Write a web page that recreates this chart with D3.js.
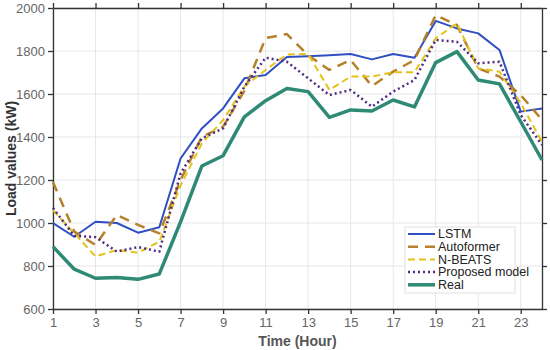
<!DOCTYPE html>
<html>
<head>
<meta charset="utf-8">
<script src="https://cdn.jsdelivr.net/npm/d3@7"></script>
<style>
  body { margin: 0; background: #fff; }
  svg { font-family: Arial, "Liberation Sans", sans-serif; }
</style>
</head>
<body>
<div id="chart"></div>
<script>
// hours on the x axis
var hours = d3.range(1, 25);
var xTicks = [1, 3, 5, 7, 9, 11, 13, 15, 17, 19, 21, 23];
var yTicks = [600, 800, 1000, 1200, 1400, 1600, 1800, 2000];

// series
var lstm = [999, 936, 1006, 1000, 955, 980, 1300, 1440, 1533, 1673, 1688, 1772,
            1776, 1780, 1786, 1761, 1786, 1769, 1940, 1905, 1882, 1805, 1518, 1533];
var autoformer = [1190, 960, 898, 1037, 991, 952, 1200, 1401, 1448, 1615, 1860, 1879,
                  1780, 1712, 1758, 1637, 1704, 1758, 1967, 1921, 1719, 1681, 1595, 1480];
var nbeats = [1060, 952, 845, 874, 862, 913, 1175, 1370, 1479, 1634, 1712, 1784,
              1786, 1619, 1681, 1681, 1701, 1701, 1859, 1929, 1719, 1704, 1557, 1378];
var proposed = [1070, 940, 934, 867, 888, 867, 1230, 1394, 1440, 1634, 1769, 1750,
                1673, 1595, 1619, 1541, 1611, 1665, 1851, 1843, 1743, 1750, 1502, 1363];
var real = [890, 785, 743, 747, 738, 763, 1005, 1265, 1313, 1494, 1569, 1626,
            1611, 1491, 1526, 1521, 1572, 1540, 1746, 1797, 1665, 1647, 1471, 1293];

var seriesList = [
  {name: "LSTM", values: lstm, color: "#2f4fc2", width: 2, dash: null},
  {name: "Autoformer", values: autoformer, color: "#b5812b", width: 2.5, dash: "10,7"},
  {name: "N-BEATS", values: nbeats, color: "#e3c21c", width: 2, dash: "7,4"},
  {name: "Proposed model", values: proposed, color: "#4e2a82", width: 2.5, dash: "2,3"},
  {name: "Real", values: real, color: "#2e8a74", width: 3.5, dash: null}
];

var W = 550, H = 350;
var margin = {top: 8, right: 8, bottom: 41, left: 53},
    width = W - margin.left - margin.right,
    height = H - margin.top - margin.bottom;

var svg = d3.select("#chart").append("svg")
    .attr("width", W)
    .attr("height", H)
  .append("g")
    .attr("transform", "translate(" + margin.left + "," + margin.top + ")");

var x = d3.scaleLinear().domain([1, 24]).range([0, width]);
var y = d3.scaleLinear().domain([600, 2000]).range([height, 0]);

// grid
svg.append("g").selectAll("line").data(xTicks).enter().append("line")
  .attr("x1", d => x(d)).attr("x2", d => x(d))
  .attr("y1", 0).attr("y2", height)
  .attr("stroke", "#e6e6e6").attr("stroke-width", 1);
svg.append("g").selectAll("line").data(yTicks).enter().append("line")
  .attr("y1", d => y(d)).attr("y2", d => y(d))
  .attr("x1", 0).attr("x2", width)
  .attr("stroke", "#e6e6e6").attr("stroke-width", 1);

// axes (box with ticks on all sides)
function styleAxis(g) {
  g.selectAll("path").attr("stroke", "#333").attr("stroke-width", 1.3);
  g.selectAll("line").attr("stroke", "#333").attr("stroke-width", 1.3);
  g.selectAll("text").attr("fill", "#666").style("font-size", "13px");
}

svg.append("g")
  .attr("transform", "translate(0," + height + ")")
  .call(d3.axisBottom(x).tickValues(xTicks).tickSize(5).tickSizeOuter(0).tickPadding(4))
  .call(styleAxis);
svg.append("g")
  .call(d3.axisTop(x).tickValues(xTicks).tickSize(5).tickSizeOuter(0).tickFormat(""))
  .call(styleAxis);
svg.append("g")
  .call(d3.axisLeft(y).tickValues(yTicks).tickFormat(d3.format("d")).tickSize(5).tickSizeOuter(0).tickPadding(3))
  .call(styleAxis);
svg.append("g")
  .attr("transform", "translate(" + width + ",0)")
  .call(d3.axisRight(y).tickValues(yTicks).tickSize(5).tickSizeOuter(0).tickFormat(""))
  .call(styleAxis);

// lines
var line = d3.line()
  .x((d, i) => x(hours[i]))
  .y(d => y(d));

seriesList.forEach(function(s) {
  svg.append("path")
    .datum(s.values)
    .attr("fill", "none")
    .attr("stroke", s.color)
    .attr("stroke-width", s.width)
    .attr("stroke-dasharray", s.dash)
    .attr("stroke-linejoin", "round")
    .attr("d", line);
});

// axis titles
svg.append("text")
  .attr("x", width / 2)
  .attr("y", height + 37)
  .attr("text-anchor", "middle")
  .attr("fill", "#555")
  .style("font-size", "14px")
  .style("font-weight", "bold")
  .text("Time (Hour)");

svg.append("text")
  .attr("transform", "rotate(-90)")
  .attr("x", -height / 2)
  .attr("y", -37)
  .attr("text-anchor", "middle")
  .attr("fill", "#333")
  .style("font-size", "14px")
  .style("font-weight", "bold")
  .text("Load values (kW)");

// legend
var legend = svg.append("g")
  .attr("transform", "translate(" + (405 - margin.left) + "," + (227 - margin.top) + ")");
legend.append("rect")
  .attr("width", 110).attr("height", 66)
  .attr("fill", "#fff").attr("stroke", "#e0e0e0");
seriesList.forEach(function(s, i) {
  var ly = 7 + i * 12.7;
  legend.append("line")
    .attr("x1", 3).attr("x2", 30)
    .attr("y1", ly).attr("y2", ly)
    .attr("stroke", s.color)
    .attr("stroke-width", s.width)
    .attr("stroke-dasharray", s.dash);
  legend.append("text")
    .attr("x", 33).attr("y", ly)
    .attr("dy", "0.35em")
    .attr("fill", "#222")
    .style("font-size", "12.5px")
    .text(s.name);
});
</script>
</body>
</html>
